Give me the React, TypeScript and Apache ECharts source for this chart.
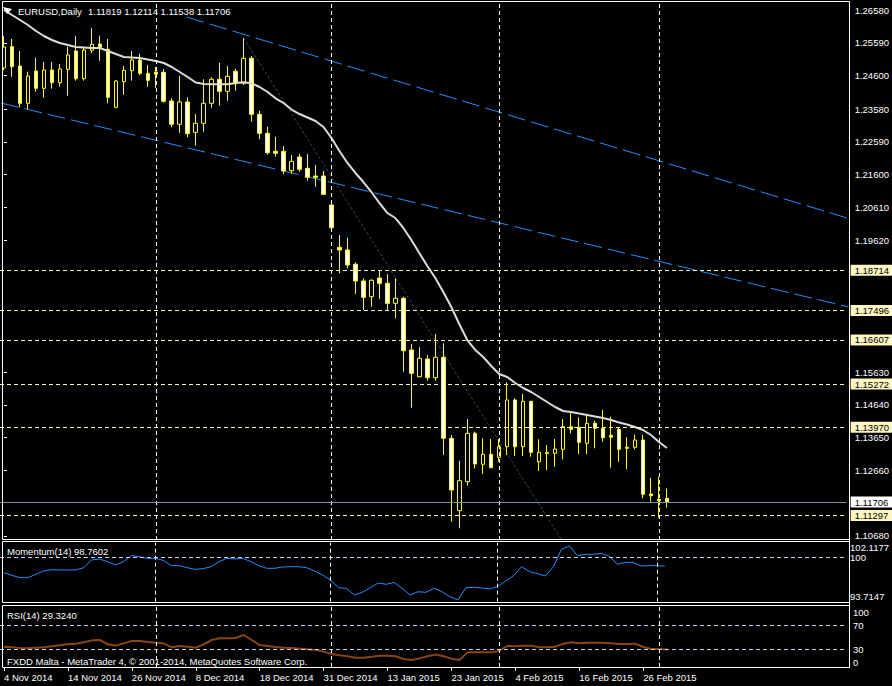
import React, { useEffect, useRef } from 'react';
import * as echarts from 'echarts';

const FONT = '"Liberation Sans", Arial, sans-serif';
const FS = 9.5;

const symbol = 'EURUSD';
const timeframe = 'Daily';
const brokerText = 'FXDD Malta - MetaTrader 4, \u00A9 2001-2014, MetaQuotes Software Corp.';

const dateLabels = ['4 Nov 2014', '14 Nov 2014', '26 Nov 2014', '8 Dec 2014', '18 Dec 2014', '31 Dec 2014',
  '13 Jan 2015', '23 Jan 2015', '4 Feb 2015', '16 Feb 2015', '26 Feb 2015'];

const opens = [
  1.24827, 1.25471, 1.24887, 1.23760, 1.24736, 1.24213, 1.24766, 1.24382, 1.24787, 1.25341,
  1.24503, 1.25362, 1.25552, 1.25392, 1.23639, 1.24413, 1.24745, 1.25068, 1.24666, 1.24706,
  1.24697, 1.23829, 1.23125, 1.23799, 1.22883, 1.23155, 1.23760, 1.24485, 1.24122, 1.24727,
  1.24364, 1.25120, 1.23427, 1.22853, 1.22309, 1.22308, 1.21722, 1.22136, 1.21795, 1.21562,
  1.21562, 1.20685, 1.19406, 1.19325, 1.18893, 1.18388, 1.17913, 1.18478, 1.18318, 1.17714,
  1.17865, 1.16302, 1.15495, 1.16030, 1.15464, 1.16081, 1.13632, 1.11444, 1.12321, 1.13784,
  1.12847, 1.13149, 1.13058, 1.13379, 1.14790, 1.13379, 1.14751, 1.12925, 1.13167, 1.13179,
  1.13300, 1.13983, 1.13965, 1.13481, 1.14086, 1.13935, 1.13723, 1.13905, 1.13360, 1.13360,
  1.13581, 1.11949, 1.11789, 1.11819];

const highs = [
  1.25794, 1.25703, 1.25341, 1.24715, 1.25138, 1.25008, 1.25008, 1.24948, 1.25471, 1.25794,
  1.25471, 1.26036, 1.25803, 1.25703, 1.24464, 1.24887, 1.25341, 1.25259, 1.24917, 1.24857,
  1.24796, 1.23911, 1.24585, 1.23941, 1.23436, 1.24485, 1.24546, 1.24987, 1.24887, 1.24806,
  1.25725, 1.25189, 1.23536, 1.23052, 1.22750, 1.22469, 1.22197, 1.22227, 1.22227, 1.21894,
  1.21713, 1.20715, 1.19778, 1.19697, 1.18953, 1.18469, 1.18439, 1.18720, 1.18599, 1.18469,
  1.17913, 1.16483, 1.16383, 1.16151, 1.16786, 1.16504, 1.13732, 1.12955, 1.14216, 1.13832,
  1.13632, 1.13611, 1.13611, 1.15325, 1.14842, 1.14972, 1.14760, 1.13602, 1.13430, 1.13611,
  1.14216, 1.14406, 1.14267, 1.14367, 1.14165, 1.14488, 1.14286, 1.13965, 1.13663, 1.13741,
  1.13732, 1.12441, 1.12472, 1.12114];

const lows = [
  1.24766, 1.24564, 1.23639, 1.23578, 1.24110, 1.23929, 1.24201, 1.24261, 1.23989, 1.24443,
  1.24443, 1.25271, 1.25047, 1.23760, 1.23608, 1.24020, 1.24443, 1.24615, 1.24261, 1.24222,
  1.23778, 1.23034, 1.22871, 1.22732, 1.22478, 1.22901, 1.23627, 1.23687, 1.23838, 1.24140,
  1.24313, 1.23203, 1.22671, 1.22206, 1.22145, 1.21622, 1.21631, 1.21692, 1.21420, 1.21238,
  1.20987, 1.19990, 1.18620, 1.18772, 1.17995, 1.17511, 1.17611, 1.17844, 1.17490, 1.17260,
  1.15646, 1.14558, 1.15480, 1.15374, 1.15374, 1.13128, 1.11111, 1.10912, 1.12200, 1.12726,
  1.12553, 1.12730, 1.12925, 1.13128, 1.13097, 1.13097, 1.13076, 1.12644, 1.12674, 1.12774,
  1.12998, 1.13784, 1.13158, 1.13158, 1.13330, 1.13530, 1.12744, 1.12925, 1.12695, 1.13300,
  1.11819, 1.11716, 1.11232, 1.11538];

const closes = [
  1.25461, 1.24866, 1.23760, 1.24585, 1.24213, 1.24766, 1.24382, 1.24796, 1.25220, 1.24503,
  1.25371, 1.25543, 1.25452, 1.23941, 1.24434, 1.24757, 1.25068, 1.24666, 1.24455, 1.24636,
  1.23820, 1.23125, 1.23799, 1.22841, 1.23155, 1.23760, 1.24485, 1.24122, 1.24576, 1.24352,
  1.25120, 1.23427, 1.22853, 1.22266, 1.22248, 1.21713, 1.22006, 1.21764, 1.21523, 1.21523,
  1.21009, 1.19999, 1.19325, 1.18871, 1.18388, 1.17895, 1.18409, 1.18318, 1.17714, 1.17865,
  1.16281, 1.15597, 1.16051, 1.15464, 1.16081, 1.13632, 1.12070, 1.12351, 1.13784, 1.12856,
  1.13149, 1.12744, 1.13379, 1.14790, 1.13379, 1.14751, 1.13209, 1.13209, 1.13209, 1.13309,
  1.13983, 1.13905, 1.13512, 1.14086, 1.13935, 1.13651, 1.13663, 1.13300, 1.13330, 1.13581,
  1.11940, 1.11897, 1.11746, 1.11706];

const movingAverage = [
  1.26580, 1.26429, 1.26278, 1.26127, 1.25945, 1.25794, 1.25673, 1.25582, 1.25522, 1.25461,
  1.25446, 1.25431, 1.25431, 1.25341, 1.25250, 1.25159, 1.25144, 1.25129, 1.25084, 1.25038,
  1.24978, 1.24857, 1.24706, 1.24555, 1.24388, 1.24343, 1.24334, 1.24334, 1.24334, 1.24373,
  1.24394, 1.24364, 1.24252, 1.24101, 1.23911, 1.23769, 1.23572, 1.23436, 1.23330, 1.23224,
  1.23043, 1.22711, 1.22318, 1.21955, 1.21653, 1.21380, 1.21078, 1.20746, 1.20443, 1.20292,
  1.19990, 1.19627, 1.19234, 1.18841, 1.18478, 1.18055, 1.17602, 1.17088, 1.16604, 1.16302,
  1.16090, 1.15818, 1.15576, 1.15485, 1.15304, 1.15153, 1.15032, 1.14881, 1.14730, 1.14579,
  1.14458, 1.14428, 1.14382, 1.14337, 1.14292, 1.14246, 1.14186, 1.14110, 1.14050, 1.13974,
  1.13883, 1.13732, 1.13520, 1.13339];

const momentum = [
  97.85, 97.47, 97.14, 97.14, 97.61, 98.09, 98.28, 98.23, 98.23, 98.23,
  98.56, 99.65, 99.80, 99.42, 98.94, 99.42, 100.27, 100.13, 99.89, 99.89,
  99.61, 98.85, 98.85, 98.56, 98.32, 98.42, 98.70, 99.42, 99.89, 99.80,
  99.89, 99.42, 98.85, 98.47, 98.47, 98.66, 98.70, 98.70, 98.56, 98.09,
  97.52, 96.81, 95.71, 95.62, 94.67, 95.05, 95.71, 96.38, 96.19, 96.47,
  95.62, 94.67, 95.14, 95.05, 95.62, 95.14, 94.43, 93.96, 95.71, 95.76,
  95.67, 95.52, 95.90, 96.66, 97.42, 98.70, 97.99, 97.71, 97.38, 98.70,
  101.17, 101.65, 100.27, 100.46, 100.46, 100.60, 100.22, 99.04, 99.32, 99.32,
  98.80, 98.85, 98.85, 98.7602];

const rsi = [
  33.9, 32.8, 31.7, 31.1, 32.2, 32.8, 34.4, 36.1, 37.8, 38.9,
  41.1, 44.4, 45.0, 37.8, 35.6, 39.4, 43.3, 43.3, 41.7, 40.6,
  39.4, 32.8, 35.0, 33.9, 32.2, 37.8, 45.0, 47.8, 47.8, 48.3,
  53.3, 45.0, 36.7, 35.0, 33.3, 32.2, 31.7, 30.6, 29.4, 28.3,
  25.6, 21.7, 19.4, 17.8, 15.6, 15.6, 17.2, 18.9, 18.9, 17.8,
  13.3, 11.7, 14.4, 17.8, 20.6, 17.8, 13.9, 11.7, 24.4, 24.4,
  24.4, 24.4, 27.2, 35.0, 34.4, 35.6, 35.6, 32.8, 32.8, 33.9,
  38.9, 41.1, 39.4, 40.6, 40.6, 40.6, 39.4, 38.3, 38.3, 38.9,
  33.3, 30.0, 30.0, 29.324];

const priceAxisTicks = [1.10680, 1.12660, 1.13650, 1.14640, 1.15630, 1.19620, 1.20610,
  1.21600, 1.22590, 1.23580, 1.24600, 1.25590, 1.26580];
const horizontalLevels = [1.18714, 1.17496, 1.16607, 1.15272, 1.13970, 1.11297];
const separatorBars = [19, 41, 62, 82];
const momentumAxisTicks = [93.7147, 100, 102.1177];
const momentumLevels = [100];
const rsiAxisTicks = [0, 30, 70, 100];
const rsiLevels = [30, 70];
const upperChannel = [[22.875, 1.26368], [105.75, 1.20277]];
const lowerChannel = [[-0.375, 1.23769], [105.75, 1.17602]];
const steepTrend = [[30, 1.25734], [71.4, 1.09954]];

const PRICE_MIN = 1.10558;
const PRICE_MAX = 1.26822;
const TOTAL_SLOTS = 106;

const LEVEL_COLOR = '#FFF6C2';
const IND_LEVEL = '#C8D2EE';

export default function App() {
  const ref = useRef<HTMLDivElement>(null);

  useEffect(() => {
    if (!ref.current) return;
    const chart = echarts.init(ref.current, undefined, { renderer: 'svg' });
    const cats = Array.from({ length: TOTAL_SLOTS }, (_, i) => String(i));
    const last = opens.length - 1;
    const candleData = opens.map((o, i) => [o, closes[i], lows[i], highs[i]]);
    const tickFn = (index: number) => index % 8 === 0 && index / 8 < dateLabels.length;

    const sepLines = separatorBars.map((b) => ({
      xAxis: b,
      lineStyle: { color: '#FFFFFF', type: [4, 3], width: 1 },
      label: { show: false },
    }));

    const tagLabel = (text: string, bg: string) => ({
      show: true,
      position: 'end',
      distance: 4,
      formatter: text,
      color: '#000',
      backgroundColor: bg,
      padding: [1, 4, 0, 4],
      fontFamily: FONT,
      fontSize: FS,
      lineHeight: 10,
    });

    const option: any = {
      animation: false,
      backgroundColor: '#000',
      textStyle: { fontFamily: FONT, fontSize: FS },
      grid: [
        { left: -1, top: 2, width: 848, height: 538 },
        { left: -1, top: 542.7, width: 848, height: 59 },
        { left: -1, top: 607, width: 848, height: 60 },
      ],
      xAxis: [
        { type: 'category', gridIndex: 0, data: cats, show: false, boundaryGap: true },
        { type: 'value', gridIndex: 0, min: -0.5, max: 105.5, show: false },
        { type: 'category', gridIndex: 1, data: cats, show: false, boundaryGap: true },
        {
          type: 'category', gridIndex: 2, data: cats, boundaryGap: true,
          axisLine: { show: false },
          axisTick: { show: true, interval: tickFn, alignWithLabel: true, length: 4, lineStyle: { color: '#FFFFFF' } },
          axisLabel: {
            interval: tickFn, align: 'left', color: '#FFFFFF', fontFamily: FONT, fontSize: FS, margin: 5,
            formatter: (_v: string, idx: number) => (idx % 8 === 0 ? dateLabels[idx / 8] ?? '' : ''),
          },
          splitLine: { show: false },
        },
      ],
      yAxis: [
        {
          type: 'value', gridIndex: 0, position: 'right', offset: 2, min: PRICE_MIN, max: PRICE_MAX, scale: true,
          splitLine: { show: false }, axisLine: { show: false },
          axisTick: { show: true, length: 3, customValues: priceAxisTicks, lineStyle: { color: '#FFFFFF' } },
          axisLabel: { customValues: priceAxisTicks, formatter: (v: number) => v.toFixed(5), color: '#FFFFFF', margin: 6, fontFamily: FONT, fontSize: FS },
        },
        {
          type: 'value', gridIndex: 1, position: 'right', offset: 2, min: 93.7147, max: 102.1177, scale: true,
          splitLine: { show: false }, axisLine: { show: false }, axisTick: { show: false },
          axisLabel: {
            customValues: momentumAxisTicks, color: '#FFFFFF', margin: 4, fontFamily: FONT, fontSize: FS,
            formatter: (v: number) => (v === 100 ? '100' : v.toFixed(4)),
            verticalAlignMinLabel: 'bottom', verticalAlignMaxLabel: 'top',
          },
        },
        {
          type: 'value', gridIndex: 2, position: 'right', offset: 2, min: 0, max: 100,
          splitLine: { show: false }, axisLine: { show: false }, axisTick: { show: false },
          axisLabel: {
            customValues: rsiAxisTicks, color: '#FFFFFF', margin: 4, fontFamily: FONT, fontSize: FS,
            formatter: (v: number) => String(v),
            verticalAlignMinLabel: 'bottom', verticalAlignMaxLabel: 'top',
          },
        },
      ],
      series: [
        {
          type: 'line', xAxisIndex: 1, yAxisIndex: 0, data: upperChannel, symbol: 'none', silent: true,
          lineStyle: { color: '#1E90FF', width: 1, type: [18, 6] }, z: 1,
        },
        {
          type: 'line', xAxisIndex: 1, yAxisIndex: 0, data: lowerChannel, symbol: 'none', silent: true,
          lineStyle: { color: '#1E90FF', width: 1, type: [18, 6] }, z: 1,
        },
        {
          type: 'line', xAxisIndex: 1, yAxisIndex: 0, data: steepTrend, symbol: 'none', silent: true,
          lineStyle: { color: '#2F4F4F', width: 1, type: [3, 2] }, z: 1,
        },
        {
          type: 'candlestick', xAxisIndex: 0, yAxisIndex: 0, data: candleData, barWidth: 4,
          itemStyle: { color: '#000000', color0: '#FFFFFF', borderColor: '#FFFF00', borderColor0: '#FFFF00', borderWidth: 1 },
          markLine: {
            silent: true, symbol: 'none', animation: false, precision: 5,
            data: [
              ...sepLines,
              ...horizontalLevels.map((v) => ({
                yAxis: v,
                lineStyle: { color: LEVEL_COLOR, type: [4, 3], width: 1 },
                label: tagLabel(v.toFixed(5), LEVEL_COLOR),
              })),
              {
                yAxis: closes[last],
                lineStyle: { color: '#7F8C9C', type: 'solid', width: 1 },
                label: tagLabel(closes[last].toFixed(5), '#FFFFFF'),
              },
            ],
          },
          z: 3,
        },
        {
          type: 'line', xAxisIndex: 0, yAxisIndex: 0, data: movingAverage, symbol: 'none', silent: true,
          lineStyle: { color: '#DCDCDC', width: 2 }, z: 4,
        },
        {
          type: 'line', xAxisIndex: 2, yAxisIndex: 1, data: momentum, symbol: 'none', silent: true,
          lineStyle: { color: '#1E90FF', width: 1 },
          markLine: {
            silent: true, symbol: 'none', animation: false, precision: 4,
            data: [
              ...sepLines,
              ...momentumLevels.map((v) => ({ yAxis: v, lineStyle: { color: IND_LEVEL, type: [4, 3], width: 1 }, label: { show: false } })),
            ],
          },
        },
        {
          type: 'line', xAxisIndex: 3, yAxisIndex: 2, data: rsi, symbol: 'none', silent: true,
          lineStyle: { color: '#8B4513', width: 2 },
          markLine: {
            silent: true, symbol: 'none', animation: false, precision: 4,
            data: [
              ...sepLines,
              ...rsiLevels.map((v) => ({ yAxis: v, lineStyle: { color: IND_LEVEL, type: [4, 3], width: 1 }, label: { show: false } })),
            ],
          },
        },
      ],
      graphic: [
        { type: 'rect', z: 100, silent: true, shape: { x: 2.5, y: 1.5, width: 847, height: 538 }, style: { fill: 'none', stroke: '#FFFFFF', lineWidth: 1 } },
        { type: 'rect', z: 100, silent: true, shape: { x: 2.5, y: 541.5, width: 847, height: 61 }, style: { fill: 'none', stroke: '#FFFFFF', lineWidth: 1 } },
        { type: 'rect', z: 100, silent: true, shape: { x: 2.5, y: 605.5, width: 847, height: 62 }, style: { fill: 'none', stroke: '#FFFFFF', lineWidth: 1 } },
        { type: 'line', z: 100, silent: true, shape: { x1: 849.5, y1: 1.5, x2: 849.5, y2: 668 }, style: { stroke: '#FFFFFF', lineWidth: 1 } },
        { type: 'polygon', z: 100, silent: true, shape: { points: [[3, 7], [12, 9], [7, 14]] }, style: { fill: '#FFFFFF' } },
        { type: 'text', z: 100, silent: true, x: 18, y: 11, style: { text: `${symbol},${timeframe}`, fill: '#FFFFFF', fontFamily: FONT, fontSize: FS, verticalAlign: 'middle' } },
        {
          type: 'text', z: 100, silent: true, x: 88, y: 11,
          style: { text: [opens[last], highs[last], lows[last], closes[last]].map((v) => v.toFixed(5)).join(' '), fill: '#FFFFFF', fontFamily: FONT, fontSize: FS, verticalAlign: 'middle' },
        },
        { type: 'text', z: 100, silent: true, x: 7, y: 551, style: { text: `Momentum(14) ${momentum[last].toFixed(4)}`, fill: '#FFFFFF', fontFamily: FONT, fontSize: FS, verticalAlign: 'middle' } },
        { type: 'text', z: 100, silent: true, x: 7, y: 615, style: { text: `RSI(14) ${rsi[last].toFixed(4)}`, fill: '#FFFFFF', fontFamily: FONT, fontSize: FS, verticalAlign: 'middle' } },
        { type: 'text', z: 100, silent: true, x: 7, y: 661, style: { text: brokerText, fill: '#FFFFFF', fontFamily: FONT, fontSize: FS, verticalAlign: 'middle' } },
      ],
    };

    chart.setOption(option);
    return () => chart.dispose();
  }, []);

  return (
    <div
      ref={ref}
      style={{ position: 'fixed', left: 0, top: 0, width: 892, height: 686, background: '#000' }}
    />
  );
}
